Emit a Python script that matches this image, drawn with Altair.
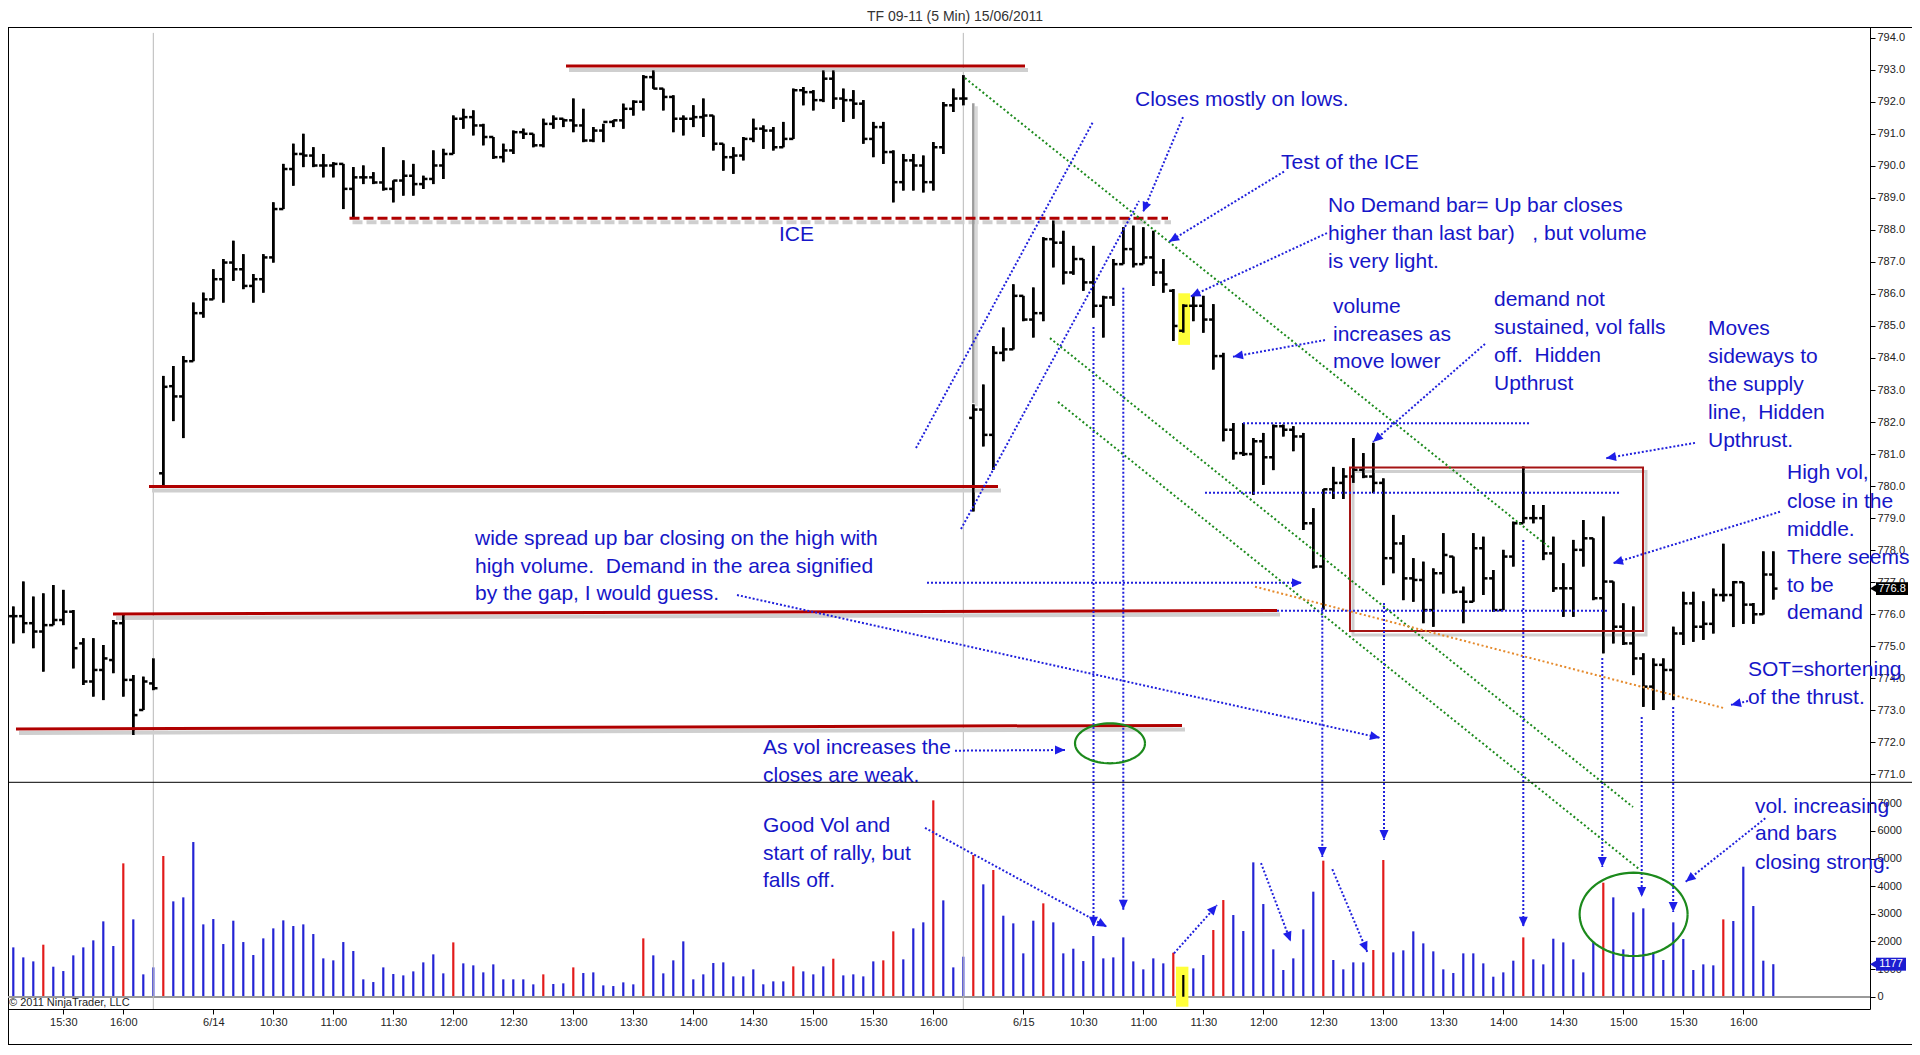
import math
import altair as alt
import pandas as pd

# ---------------- OHLC of the 5-minute bars (bar index = position) ----------------
O_13JUN = [775.94, 775.94, 775.72, 775.46, 775.66, 775.82, 776.08, 775.09, 773.90, 774.26, 774.57, 775.72, 773.95, 773.01, 773.84]
H_13JUN = [776.24, 777.02, 776.55, 776.65, 776.91, 776.76, 776.13, 775.25, 775.25, 775.04, 775.82, 775.98, 774.10, 774.05, 774.62]
L_13JUN = [775.09, 775.41, 774.94, 774.21, 775.66, 775.66, 774.31, 773.79, 773.43, 773.32, 774.16, 773.43, 772.23, 773.01, 773.63]
C_13JUN = [775.94, 775.72, 775.46, 775.66, 775.82, 776.08, 774.94, 773.90, 774.26, 774.62, 775.72, 773.95, 772.85, 773.90, 773.69]

O_14JUN = [780.40, 783.12, 782.80, 783.90, 785.40, 785.83, 786.46, 786.98, 786.77, 786.25, 786.46, 787.14, 788.65, 789.90, 790.37, 790.32,
           790.01, 790.01, 790.06, 789.28, 789.64, 789.64, 789.48, 789.28, 789.54, 789.69, 789.43, 789.59, 790.01, 790.37, 791.47, 791.52,
           791.26, 790.90, 790.27, 790.48, 791.05, 791.00, 790.64, 791.31, 791.47, 791.42, 791.26, 790.79, 791.10, 791.37, 791.42, 791.78,
           792.00, 792.77, 792.41, 792.15, 791.47, 791.47, 791.52, 791.57, 790.69, 790.27, 790.32, 790.84, 791.16, 791.10, 790.58, 790.84,
           792.36, 792.30, 792.05, 792.72, 792.10, 792.05, 791.94, 790.84, 791.21, 790.43, 789.49, 790.17, 790.01, 789.49, 790.58, 791.89, 792.10]
H_14JUN = [783.44, 783.75, 784.06, 785.73, 786.04, 786.77, 787.09, 787.66, 787.24, 786.62, 787.24, 788.86, 790.06, 790.69, 791.00, 790.58,
           790.37, 790.11, 790.06, 789.96, 790.01, 789.80, 790.58, 789.54, 790.17, 790.06, 789.69, 790.48, 790.53, 791.57, 791.78, 791.73,
           791.31, 790.90, 790.69, 791.10, 791.16, 791.00, 791.47, 791.57, 791.47, 792.10, 791.78, 791.21, 791.31, 791.42, 791.94, 792.04,
           792.83, 792.98, 792.41, 792.20, 791.57, 791.89, 792.10, 791.57, 790.69, 790.58, 790.90, 791.47, 791.26, 791.21, 791.37, 792.41,
           792.46, 792.36, 792.98, 792.98, 792.41, 792.36, 792.05, 791.37, 791.37, 790.48, 790.37, 790.37, 790.32, 790.74, 791.99, 792.41, 792.83]
L_14JUN = [780.00, 782.03, 781.50, 783.90, 785.26, 785.83, 785.73, 786.41, 786.15, 785.73, 786.04, 786.98, 788.65, 789.38, 789.96, 789.96,
           789.64, 789.64, 788.65, 788.39, 789.43, 789.43, 789.23, 788.86, 789.07, 789.07, 789.28, 789.43, 789.59, 790.37, 791.16, 790.95,
           790.64, 790.22, 790.11, 790.37, 790.84, 790.58, 790.58, 791.16, 791.21, 791.05, 790.74, 790.74, 790.74, 791.21, 791.16, 791.57,
           791.73, 792.41, 791.73, 791.05, 790.95, 791.21, 790.90, 790.48, 789.85, 789.75, 790.17, 790.74, 790.53, 790.48, 790.58, 790.84,
           791.89, 791.73, 791.99, 791.78, 791.37, 791.47, 790.69, 790.27, 790.06, 788.86, 789.23, 789.23, 789.17, 789.23, 790.37, 791.68, 791.89]
C_14JUN = [783.10, 782.80, 783.90, 785.40, 785.83, 786.46, 786.98, 786.77, 786.25, 786.46, 787.14, 788.65, 789.90, 790.37, 790.32, 790.01,
           790.01, 790.06, 789.28, 789.64, 789.64, 789.48, 789.28, 789.54, 789.69, 789.43, 789.59, 790.01, 790.37, 791.47, 791.52, 791.26,
           790.90, 790.27, 790.48, 791.05, 791.00, 790.64, 791.31, 791.47, 791.42, 791.26, 790.79, 791.10, 791.37, 791.42, 791.78, 792.00,
           792.77, 792.41, 792.15, 791.47, 791.47, 791.52, 791.57, 790.69, 790.27, 790.32, 790.84, 791.16, 791.10, 790.58, 790.84, 792.36,
           792.30, 792.05, 792.72, 792.10, 792.05, 791.94, 790.84, 791.21, 790.43, 789.49, 790.17, 790.01, 789.49, 790.58, 791.89, 792.10, 792.10]

O_15JUN = [782.13, 782.39, 781.60, 784.16, 784.27, 785.94, 785.20, 785.40, 787.71, 787.60, 786.67, 787.09, 786.36, 785.63, 785.89, 786.93,
           787.40, 786.93, 787.14, 786.67, 786.10, 784.85, 785.63, 785.63, 785.20, 784.06, 781.76, 781.03, 781.00, 781.40, 780.90, 781.87,
           781.76, 781.55, 778.84, 777.49, 779.90, 780.10, 780.30, 780.51, 780.30, 780.10, 777.75,
           778.21, 777.12, 777.07, 776.13, 777.28, 777.80, 776.70, 776.39, 778.06, 777.12, 776.13, 777.80, 778.84, 779.00, 779.00, 777.90,
           776.81, 776.81, 778.01, 778.37, 776.50, 777.02, 775.61, 775.09, 774.62, 773.74, 774.42, 774.26, 775.40, 776.34, 775.61, 775.70,
           776.60, 776.60, 777.00, 776.30, 776.00, 777.24]
H_15JUN = [782.55, 783.17, 784.37, 784.95, 786.30, 785.94, 786.20, 787.77, 788.29, 787.97, 787.50, 787.09, 787.50, 785.94, 787.09, 788.08,
           788.13, 788.08, 787.97, 787.09, 786.15, 785.68, 785.94, 785.94, 785.68, 784.16, 781.97, 781.97, 781.50, 781.66, 781.92, 781.92,
           781.87, 781.66, 779.31, 779.90, 780.60, 780.56, 781.50, 781.03, 781.35, 780.24, 779.10,
           778.47, 777.75, 777.64, 777.43, 778.53, 777.80, 776.86, 778.53, 778.42, 777.38, 778.01, 778.89, 780.61, 779.41, 779.41, 778.42,
           777.59, 778.32, 778.94, 778.37, 779.05, 777.02, 776.34, 776.24, 774.78, 774.62, 774.62, 775.61, 776.70, 776.70, 776.40, 776.80,
           778.20, 777.03, 777.00, 776.35, 777.96, 777.96]
L_15JUN = [779.21, 781.24, 780.51, 783.90, 784.27, 785.15, 784.64, 785.15, 786.83, 786.30, 786.60, 786.10, 785.26, 784.64, 785.63, 786.93,
           786.83, 786.93, 786.25, 786.04, 784.53, 784.79, 785.15, 784.79, 783.64, 781.40, 780.83, 780.94, 779.73, 780.04, 780.50, 781.55,
           781.09, 778.63, 777.43, 776.15, 779.60, 779.60, 780.10, 780.25, 779.78, 776.91, 777.28,
           776.44, 776.39, 775.72, 775.61, 776.65, 776.65, 775.72, 776.39, 776.60, 776.08, 776.13, 777.49, 778.84, 778.84, 777.69, 776.70,
           775.92, 775.92, 777.49, 776.44, 774.78, 775.09, 775.04, 774.10, 773.11, 773.01, 773.32, 773.32, 775.04, 775.14, 775.20, 775.40,
           776.40, 775.60, 775.70, 775.70, 775.99, 776.46]
C_15JUN = [782.39, 781.60, 784.16, 784.27, 785.94, 785.20, 785.40, 787.71, 787.60, 786.67, 787.09, 786.36, 785.63, 785.89, 786.93, 787.40,
           786.93, 787.14, 786.67, 786.30, 785.00, 785.63, 785.63, 785.20, 784.06, 781.76, 781.03, 781.00, 781.40, 780.90, 781.87, 781.76,
           781.55, 778.84, 777.49, 779.90, 780.10, 780.30, 780.51, 780.30, 780.10, 777.75, 778.21,
           777.12, 777.07, 776.13, 777.28, 777.85, 776.70, 776.39, 778.06, 777.12, 776.13, 777.80, 778.84, 779.00, 779.00, 777.90, 776.81,
           776.81, 778.01, 778.37, 776.50, 777.02, 775.61, 775.09, 774.62, 773.74, 774.42, 774.26, 775.40, 776.34, 775.61, 775.70, 776.60,
           776.60, 777.00, 776.30, 776.00, 777.24, 776.80]

# ---------------- volume per bar ----------------
V_13JUN = [1786, 1424, 1279, 1883, 1086, 929, 1497, 1786, 2040, 2728, 1835, 4828, 2800, 809, 1062]
V_14JUN = [5094, 3452, 3597, 5600, 2619, 2812, 1907, 2752, 1979, 1509, 2112, 2474, 2764, 2559, 2619, 2269, 1388, 1316, 1979, 1654,
           628, 531, 1062, 821, 772, 917, 1243, 1533, 845, 1967, 1207, 1135, 881, 1171, 628, 628, 628, 447, 809, 459,
           483, 1062, 857, 881, 410, 386, 519, 447, 2112, 1497, 845, 1316, 2004, 628, 809, 1219, 1243, 736, 736, 990,
           447, 555, 555, 1098, 917, 809, 1098, 1376, 772, 809, 736, 1279, 1316, 2366, 1352, 2474, 2692, 7109, 3488, 1062, 1448]
V_15JUN = [5130, 4068, 4587, 2933, 2655, 1569, 2752, 3380, 2692, 1569, 1738, 1291, 2197, 1388, 1424, 2148, 1279, 990, 1388, 1207,
           1593, 785, 1026, 1509, 2414, 3500, 2957, 2378, 4864, 3355, 1714, 966, 1388, 2438, 3802, 4925, 1328, 990, 1243, 1243,
           1690, 4949, 1605, 1678, 2366, 1931, 1642, 990, 857, 1569, 1569, 1207, 724, 881, 1304, 2148, 1352, 1171, 2100, 1967,
           1352, 881, 1992, 4128, 3597, 1714, 3054, 3199, 1605, 1328, 2692, 2088, 966, 1171, 1135, 2800, 2740, 4707, 3283, 1304, 1177]
DOWN_BARS = [3, 11, 15, 44, 53, 56, 63, 78, 82, 87, 88, 92, 96, 98, 103, 116, 120, 121, 131, 136, 137, 151, 159, 171]
NO_DEMAND_BARS = [117]

OPEN = O_13JUN + O_14JUN + O_15JUN
HIGH = H_13JUN + H_14JUN + H_15JUN
LOW = L_13JUN + L_14JUN + L_15JUN
CLOSE = C_13JUN + C_14JUN + C_15JUN
VOLUME = V_13JUN + V_14JUN + V_15JUN

TICK_INDEX = [5, 11, 20, 26, 32, 38, 44, 50, 56, 62, 68, 74, 80, 86, 92,
              101, 107, 113, 119, 125, 131, 137, 143, 149, 155, 161, 167, 173]
TICK_TEXT = ["15:30", "16:00", "6/14", "10:30", "11:00", "11:30", "12:00", "12:30", "13:00", "13:30", "14:00", "14:30", "15:00",
             "15:30", "16:00", "6/15", "10:30", "11:00", "11:30", "12:00", "12:30", "13:00", "13:30", "14:00", "14:30", "15:00",
             "15:30", "16:00"]
PRICE_TICKS = list(range(771, 795))
VOL_TICKS = [0, 1000, 2000, 3000, 4000, 5000, 6000, 7000]
SESSION_BREAKS = [14, 95]
TITLE = "TF 09-11 (5 Min)  15/06/2011"
COPYRIGHT = "© 2011 NinjaTrader, LLC"

# ---------------- drawn annotations (bar index, price) ----------------
SUPPORT_LINES = [(55.27, 793.12, 101.17, 793.12), (13.57, 779.99, 98.47, 779.99),
                 (9.97, 776.01, 126.37, 776.12), (0.27, 772.42, 116.87, 772.53)]
ICE_LINE = [(33.62, 788.36, 115.47, 788.36)]
SUPPLY_BOX = [(133.67, 780.58, 162.97, 775.48)]
GAP_LINE = [(96.0, 791.95, 782.59)]
NO_DEMAND_PRICE_BOX = [(116.5, 786.02, 117.67, 784.41)]
NO_DEMAND_VOL_BOX = [(116.27, 1086, 117.51, -362)]
BLUE_LINES = [  # bar0, price0, bar1, price1, arrowhead
    (90.27, 781.19, 107.97, 791.37, 0), (94.77, 778.66, 112.57, 788.90, 0),
    (116.97, 791.52, 112.97, 788.56, 1), (127.07, 789.82, 115.57, 787.63, 1),
    (131.37, 787.90, 117.72, 785.92, 1), (131.17, 784.56, 121.97, 784.04, 1),
    (147.17, 784.44, 135.97, 781.38, 1), (168.17, 781.35, 159.27, 780.87, 1),
    (176.67, 779.20, 159.97, 777.59, 1), (173.47, 773.29, 171.77, 773.17, 1),
    (72.37, 776.60, 136.67, 772.14, 1), (91.37, 776.98, 128.87, 776.98, 1),
    (122.97, 781.96, 151.77, 781.96, 0), (119.17, 779.79, 160.67, 779.79, 0),
    (126.37, 776.11, 159.37, 776.11, 0), (94.17, 771.74, 105.17, 771.76, 1),
    (91.17, 769.33, 109.37, 766.24, 1), (116.07, 765.41, 120.37, 766.92, 1),
    (124.77, 768.23, 127.74, 765.78, 1), (131.90, 768.04, 135.39, 765.46, 1),
    (175.20, 769.63, 167.24, 767.65, 1),
    (108.02, 784.97, 108.02, 766.24, 1), (111.00, 786.19, 111.00, 766.77, 1),
    (130.90, 776.20, 130.90, 768.42, 1), (137.07, 776.35, 137.07, 768.95, 1),
    (151.00, 778.32, 151.00, 766.24, 1), (158.90, 774.63, 158.90, 768.11, 1),
    (162.84, 772.79, 162.84, 767.17, 1), (165.99, 773.10, 165.99, 766.70, 1),
]
GREEN_LINES = [(95.17, 792.74, 153.67, 778.07), (103.67, 784.62, 161.97, 769.98), (104.47, 782.63, 162.67, 768.02)]
ORANGE_LINES = [(124.17, 776.86, 171.17, 773.06)]
ELLIPSES = [(109.67, 771.97, 3.5, 0.624), (162.03, 766.63, 5.4, 1.30)]  # centre bar, centre price, half-width, half-height
NOTES = [
    (112.17, 792.055, "Closes mostly on lows."),
    (126.77, 790.088, "Test of the ICE"),
    (131.47, 788.730, "No Demand bar= Up bar closes"),
    (131.47, 787.871, "higher than last bar)\u00a0\u00a0\u00a0, but volume"),
    (131.47, 786.997, "is very light."),
    (131.97, 785.592, "volume"), (131.97, 784.718, "increases as"), (131.97, 783.875, "move lower"),
    (148.07, 785.811, "demand not"), (148.07, 784.936, "sustained, vol falls"),
    (148.07, 784.062, "off.\u00a0\u00a0Hidden"), (148.07, 783.188, "Upthrust"),
    (169.47, 784.905, "Moves"), (169.47, 784.031, "sideways to"), (169.47, 783.157, "the supply"),
    (169.47, 782.283, "line,\u00a0\u00a0Hidden"), (169.47, 781.409, "Upthrust."),
    (177.37, 780.410, "High vol,"), (177.37, 779.504, "close in the"), (177.37, 778.630, "middle."),
    (177.37, 777.756, "There seems"), (177.37, 776.882, "to be"), (177.37, 776.039, "demand"),
    (173.47, 774.259, "SOT=shortening"), (173.47, 773.385, "of the thrust."),
    (46.17, 778.349, "wide spread up bar closing on the high with"),
    (46.17, 777.475, "high volume.\u00a0\u00a0Demand in the area signified"),
    (46.17, 776.632, "by the gap, I would guess."),
    (74.97, 771.824, "As vol increases the"), (74.97, 770.950, "closes are weak."),
    (74.97, 769.389, "Good Vol and"), (74.97, 768.514, "start of rally, but"), (74.97, 767.671, "falls off."),
    (174.17, 769.982, "vol. increasing"), (174.17, 769.139, "and bars"), (174.17, 768.233, "closing strong."),
    (76.57, 787.840, "ICE"),
]

# ---------------- layout / style ----------------
W, H = 1862, 982
X_DOMAIN = [-0.53, 185.67]
PRICE_DOMAIN = [763.675, 794.334]
VOL_DOMAIN = [-445.3, 35109.0]
PX_BAR = W / (X_DOMAIN[1] - X_DOMAIN[0])
PX_PT = H / (PRICE_DOMAIN[1] - PRICE_DOMAIN[0])
TICK = 0.42
FONT = "Liberation Sans"
NOTE_BLUE = "#1616c8"
LINE_BLUE = "#2020dc"
GREEN = "#1c8a1c"
ORANGE = "#e58a2c"
DARK_RED = "#b00000"
BOX_RED = "#a51414"
SHADOW = "#cfcfcf"

XS = alt.Scale(domain=X_DOMAIN, nice=False, zero=False)
PS = alt.Scale(domain=PRICE_DOMAIN, nice=False, zero=False)
VS = alt.Scale(domain=VOL_DOMAIN, nice=False, zero=False)

label_expr = ("[" + ",".join("'%s'" % t for t in TICK_TEXT) + "][indexof([" +
              ",".join(str(v) for v in TICK_INDEX) + "], datum.value)]")
AX_COMMON = dict(title=None, grid=False, domain=False, ticks=True, tickSize=5, tickColor="black",
                 labelFont=FONT, labelFontSize=11, labelColor="#222222", labelPadding=2,
                 labelFlush=False, labelOverlap=False)
XAXIS = alt.Axis(values=TICK_INDEX, labelExpr=label_expr, orient="bottom", **AX_COMMON)
PAXIS = alt.Axis(values=PRICE_TICKS, format=".1f", orient="right", **AX_COMMON)
VAXIS = alt.Axis(values=VOL_TICKS, format="d", orient="right", **AX_COMMON)


def X(f):
    return alt.X(f, type="quantitative", scale=XS, axis=XAXIS)


def PY(f):
    return alt.Y(f, type="quantitative", scale=PS, axis=None)


def VY(f):
    return alt.Y(f, type="quantitative", scale=VS, axis=None)


# ---------------- data frames ----------------
bars = pd.DataFrame({"i": list(range(len(OPEN))), "o": OPEN, "h": HIGH, "l": LOW, "c": CLOSE})
kinds = ["nd" if k in NO_DEMAND_BARS else ("down" if k in DOWN_BARS else "up") for k in range(len(VOLUME))]
vol = pd.DataFrame({"i": list(range(len(VOLUME))), "v": VOLUME, "z": 0, "kind": kinds})


def seg_df(rows):
    return pd.DataFrame([{"x0": r[0], "p0": r[1], "x1": r[2], "p1": r[3]} for r in rows])


support = seg_df(SUPPORT_LINES)
ice = seg_df(ICE_LINE)
box = seg_df(SUPPLY_BOX)
blue = seg_df(BLUE_LINES)
green = seg_df(GREEN_LINES)
orange = seg_df(ORANGE_LINES)
nd_box = seg_df(NO_DEMAND_PRICE_BOX)
nd_vbox = seg_df(NO_DEMAND_VOL_BOX)
gap = pd.DataFrame([{"x": g[0], "p0": g[1], "p1": g[2]} for g in GAP_LINE])
sessions = pd.DataFrame({"x": SESSION_BREAKS, "p0": [794.15] * len(SESSION_BREAKS),
                         "p1": [PRICE_DOMAIN[0]] * len(SESSION_BREAKS)})

arrows = []
for (x0, p0, x1, p1, a) in BLUE_LINES:
    if a:
        dx = (x1 - x0) * PX_BAR
        dy = -(p1 - p0) * PX_PT
        arrows.append({"x": x1, "p": p1, "ang": math.degrees(math.atan2(dx, -dy)) % 360})
arrows = pd.DataFrame(arrows)

ell = []
for k, (cx, cy, rx, ry) in enumerate(ELLIPSES):
    for j in range(73):
        t = 2 * math.pi * j / 72
        ell.append({"e": k, "k": j, "x": cx + rx * math.cos(t), "p": cy + ry * math.sin(t)})
ell = pd.DataFrame(ell)

notes = pd.DataFrame([{"x": n[0], "p": n[1], "t": n[2]} for n in NOTES])
last_p = pd.DataFrame([{"p": CLOSE[-1], "lo": CLOSE[-1] - 0.2, "hi": CLOSE[-1] + 0.2, "t": "%.1f" % CLOSE[-1]}])
last_v = pd.DataFrame([{"v": VOLUME[-1], "lo": VOLUME[-1] - 235, "hi": VOLUME[-1] + 235, "t": str(VOLUME[-1])}])
one = pd.DataFrame([{"a": 1}])

ARROW = "M0,0L0.45,1L-0.45,1Z"

layers = [
    # ----- volume panel -----
    alt.Chart(vol).mark_rule(strokeWidth=2.2).encode(
        x=X("i"), y=alt.Y("v", type="quantitative", scale=VS, axis=VAXIS), y2="z",
        color=alt.Color("kind:N", scale=alt.Scale(domain=["up", "down", "nd"],
                                                  range=["#2424d4", "#e21b1b", "#000000"]), legend=None)),
    alt.Chart(vol).mark_rule(color="#9a9a9a", strokeWidth=1).encode(
        x=alt.value(0), x2=alt.value(W), y=VY("z")),
    alt.Chart(nd_vbox).mark_rect(color="#ffff3a").encode(x=X("x0"), x2="x1", y=VY("p0"), y2="p1"),
    alt.Chart(vol).transform_filter("datum.kind == 'nd'").mark_rule(strokeWidth=2.2, color="black").encode(
        x=X("i"), y=VY("v"), y2="z"),
    alt.Chart(last_v).mark_rect(color="#1c1cd0").encode(
        x=alt.value(W + 6), x2=alt.value(W + 36), y=VY("lo"), y2="hi"),
    alt.Chart(last_v).mark_point(shape="triangle-left", filled=True, size=90, color="#1c1cd0", opacity=1).encode(
        x=alt.value(W + 4), y=VY("v")),
    alt.Chart(last_v).mark_text(color="white", font=FONT, fontSize=11, align="center", baseline="middle").encode(
        x=alt.value(W + 21), y=VY("v"), text="t:N"),
    # ----- price panel -----
    alt.Chart(bars).mark_rule(color="black", strokeWidth=2.5).encode(
        x=X("i"), y=alt.Y("l", type="quantitative", scale=PS, axis=PAXIS), y2="h"),
    alt.Chart(nd_box).mark_rect(color="#ffff3a").encode(x=X("x0"), x2="x1", y=PY("p0"), y2="p1"),
    alt.Chart(sessions).mark_rule(color="#b8b8b8", strokeWidth=1).encode(x=X("x"), y=PY("p0"), y2="p1"),
    alt.Chart(support).mark_rule(color=SHADOW, strokeWidth=4, xOffset=3, x2Offset=3, yOffset=4, y2Offset=4).encode(
        x=X("x0"), x2="x1", y=PY("p0"), y2="p1"),
    alt.Chart(ice).mark_rule(color=SHADOW, strokeWidth=4, strokeDash=[10, 4], xOffset=3, x2Offset=3, yOffset=4,
                             y2Offset=4).encode(x=X("x0"), x2="x1", y=PY("p0"), y2="p1"),
    alt.Chart(box).mark_rect(fill="transparent", stroke=SHADOW, strokeWidth=3, xOffset=3, x2Offset=3, yOffset=4,
                             y2Offset=4).encode(x=X("x0"), x2="x1", y=PY("p0"), y2="p1"),
    alt.Chart(gap).mark_rule(color="#d8d8d8", strokeWidth=3, xOffset=3, yOffset=3, y2Offset=3).encode(
        x=X("x"), y=PY("p0"), y2="p1"),
    alt.Chart(gap).mark_rule(color="#9c9c9c", strokeWidth=2.5).encode(x=X("x"), y=PY("p0"), y2="p1"),
    alt.Chart(bars).mark_rule(color="black", strokeWidth=2.5).encode(x=X("i"), y=PY("l"), y2="h"),
    alt.Chart(bars).transform_calculate(xo="datum.i - %f" % TICK).mark_rule(color="black", strokeWidth=2.5).encode(
        x=X("xo:Q"), x2="i", y=PY("o")),
    alt.Chart(bars).transform_calculate(xc="datum.i + %f" % TICK).mark_rule(color="black", strokeWidth=2.5).encode(
        x=X("i"), x2="xc:Q", y=PY("c")),
    alt.Chart(support).mark_rule(color=DARK_RED, strokeWidth=3).encode(x=X("x0"), x2="x1", y=PY("p0"), y2="p1"),
    alt.Chart(ice).mark_rule(color=DARK_RED, strokeWidth=3, strokeDash=[10, 4]).encode(
        x=X("x0"), x2="x1", y=PY("p0"), y2="p1"),
    alt.Chart(box).mark_rect(fill="transparent", stroke=BOX_RED, strokeWidth=2).encode(
        x=X("x0"), x2="x1", y=PY("p0"), y2="p1"),
    alt.Chart(green).mark_rule(color=GREEN, strokeWidth=2, strokeDash=[2, 2.5]).encode(
        x=X("x0"), x2="x1", y=PY("p0"), y2="p1"),
    alt.Chart(orange).mark_rule(color=ORANGE, strokeWidth=2, strokeDash=[2, 2.5]).encode(
        x=X("x0"), x2="x1", y=PY("p0"), y2="p1"),
    alt.Chart(blue).mark_rule(color=LINE_BLUE, strokeWidth=2, strokeDash=[2, 2]).encode(
        x=X("x0"), x2="x1", y=PY("p0"), y2="p1"),
    alt.Chart(arrows).mark_point(shape=ARROW, filled=True, size=400, color="#1e1ee8", opacity=1, strokeWidth=0).encode(
        x=X("x"), y=PY("p"), angle=alt.Angle("ang:Q", scale=None)),
    alt.Chart(ell).mark_line(color=GREEN, strokeWidth=2.2).encode(
        x=X("x"), y=PY("p"), detail="e:N", order="k:Q"),
    alt.Chart(notes).mark_text(align="left", baseline="middle", font=FONT, fontSize=21, color=NOTE_BLUE).encode(
        x=X("x"), y=PY("p"), text="t:N"),
    alt.Chart(last_p).mark_rect(color="black").encode(
        x=alt.value(W + 6), x2=alt.value(W + 38), y=PY("lo"), y2="hi"),
    alt.Chart(last_p).mark_point(shape="triangle-left", filled=True, size=90, color="black", opacity=1).encode(
        x=alt.value(W + 4), y=PY("p")),
    alt.Chart(last_p).mark_text(color="white", font=FONT, fontSize=11, align="center", baseline="middle").encode(
        x=alt.value(W + 22), y=PY("p"), text="t:N"),
    # ----- frame pieces outside the plot rectangle, title, copyright -----
    alt.Chart(one).mark_rule(color="black", strokeWidth=1).encode(x=alt.value(0), x2=alt.value(W + 42), y=alt.value(0.5)),
    alt.Chart(one).mark_rule(color="black", strokeWidth=1).encode(x=alt.value(0), x2=alt.value(W + 42), y=alt.value(755.3)),
    alt.Chart(one).mark_rule(color="black", strokeWidth=1).encode(x=alt.value(0), x2=alt.value(W + 42), y=alt.value(H + 35.5)),
    alt.Chart(one).mark_rule(color="black", strokeWidth=1).encode(x=alt.value(0.5), y=alt.value(H), y2=alt.value(H + 36)),
    alt.Chart(pd.DataFrame([{"t": TITLE}])).mark_text(font=FONT, fontSize=14, color="#333333", align="center",
                                                      baseline="middle").encode(
        x=alt.value(947), y=alt.value(-10), text="t:N"),
    alt.Chart(pd.DataFrame([{"t": COPYRIGHT}])).mark_text(font=FONT, fontSize=11, color="#222222", align="left",
                                                          baseline="middle").encode(
        x=alt.value(1), y=alt.value(976), text="t:N"),
]

chart = alt.layer(*layers).resolve_scale(y="independent").properties(
    width=W, height=H,
    autosize=alt.AutoSizeParams(type="none"),
    padding={"left": 0, "top": 19, "right": 42, "bottom": 36},
    background="white",
).configure_view(stroke="black", strokeWidth=1)

chart.save("out.html", embed_options={"renderer": "svg", "actions": False})
